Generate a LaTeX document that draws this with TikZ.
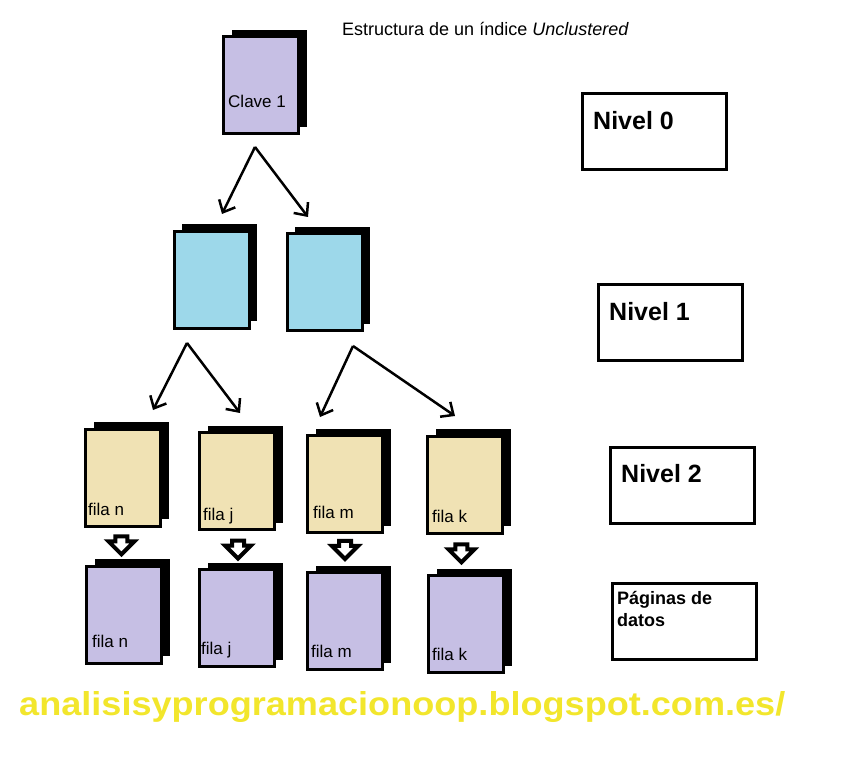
\documentclass[tikz,border=0pt]{standalone}
\usepackage{fontspec}
\setmainfont{Liberation Sans}
\usetikzlibrary{arrows.meta,shapes.arrows,shadows,calc}
\definecolor{lav}{RGB}{198,191,228}
\definecolor{sky}{RGB}{157,216,234}
\definecolor{beige}{RGB}{240,226,180}
\definecolor{ylw}{RGB}{242,230,44}
\tikzset{
  docpage/.style={draw=black, line width=3pt, minimum width=75pt, minimum height=97pt, inner sep=0pt,
    general shadow={fill=black, shadow xshift=8pt, shadow yshift=7pt}},
  lvlbox/.style={draw=black, line width=3pt, minimum width=144pt, minimum height=76pt, inner sep=0pt},
  lbl/.style={anchor=west, inner sep=0pt, font=\fontsize{17}{20}\selectfont},
  lvltxt/.style={anchor=west, inner sep=0pt, font=\bfseries\fontsize{25}{28}\selectfont},
  ptr/.style={draw=black, line width=2.5pt, -{Straight Barb[length=10pt,width=18pt,line width=2.5pt]}},
  blockarrow/.style={single arrow, draw=black, fill=white, line width=4pt, rotate=-90,
    minimum height=18pt, inner sep=4pt, single arrow head extend=7pt}
}
\begin{document}
\begin{tikzpicture}[x=1pt,y=-1pt]
\useasboundingbox (0,0) rectangle (849,767);
% title
\node[inner sep=0pt, anchor=west, font=\fontsize{18}{21}\selectfont] (title) at (342,29) {Estructura de un índice \textit{Unclustered}};
% level 0
\node[docpage, fill=lav] (c1) at (261,85.5) {};
\node[lbl] (c1t) at (228,101) {Clave 1};
% level 1
\node[docpage, fill=sky] (b1) at (211.5,280) {};
\node[docpage, fill=sky] (b2) at (324.5,282.5) {};
% level 2
\node[docpage, fill=beige] (l2n) at (123,477.5) {};
\node[docpage, fill=beige] (l2j) at (237,481) {};
\node[docpage, fill=beige] (l2m) at (345,484) {};
\node[docpage, fill=beige] (l2k) at (465,484.5) {};
\node[lbl] at ($(l2n.south west)+(4,-18)$) {fila n};
\node[lbl] at ($(l2j.south west)+(5,-15)$) {fila j};
\node[lbl] at ($(l2m.south west)+(7,-22)$) {fila m};
\node[lbl] at ($(l2k.south west)+(6,-18)$) {fila k};
% data pages
\node[docpage, fill=lav] (dn) at (124,614.5) {};
\node[docpage, fill=lav] (dj) at (237,618) {};
\node[docpage, fill=lav] (dm) at (345,621) {};
\node[docpage, fill=lav] (dk) at (466,624) {};
\node[lbl] at ($(dn.south west)+(7,-23)$) {fila n};
\node[lbl] at ($(dj.south west)+(3,-18)$) {fila j};
\node[lbl] at ($(dm.south west)+(5,-20)$) {fila m};
\node[lbl] at ($(dk.south west)+(5,-20)$) {fila k};
% pointer arrows
\coordinate (a0) at (255,147);
\coordinate (t0l) at (222,214);
\coordinate (t0r) at (308,217);
\coordinate (a1) at (187,343);
\coordinate (t1l) at (153,410);
\coordinate (t1r) at (240,413);
\coordinate (a2) at (353,346);
\coordinate (t2l) at (320,417);
\coordinate (t2r) at (455,416);
\draw[ptr] (a0) -- (t0l);
\draw[ptr] (a0) -- (t0r);
\draw[ptr] (a1) -- (t1l);
\draw[ptr] (a1) -- (t1r);
\draw[ptr] (a2) -- (t2l);
\draw[ptr] (a2) -- (t2r);
% block arrows
\node[blockarrow] (pn) at ($(l2n.south)!0.4!(dn.north)+(-2,0)$) {};
\node[blockarrow] (pj) at ($(l2j.south)!0.42!(dj.north)+(1,0)$) {};
\node[blockarrow] (pm) at ($(l2m.south)!0.35!(dm.north)$) {};
\node[blockarrow] (pk) at ($(l2k.south)!0.4!(dk.north)+(-4,0)$) {};
% level boxes
\node[lvlbox] (n0) at (654.5,131.5) {};
\node[lvltxt] at (593,121) {Nivel 0};
\node[lvlbox] (n1) at (670,323) {};
\node[lvltxt] at (609,312) {Nivel 1};
\node[lvlbox] (n2) at (682,485) {};
\node[lvltxt] at (621,474) {Nivel 2};
\node[lvlbox] (n3) at (684.5,621) {};
\node[inner sep=0pt, anchor=north west, align=left, font=\bfseries\fontsize{18}{22}\selectfont] (pt) at (617,591) {Páginas de\\datos};
% footer
\node[inner sep=0pt, anchor=base west, text=ylw] (foot) at (19,715) {\resizebox{766pt}{24pt}{\bfseries analisisyprogramacionoop.blogspot.com.es/}};
\end{tikzpicture}
\end{document}
